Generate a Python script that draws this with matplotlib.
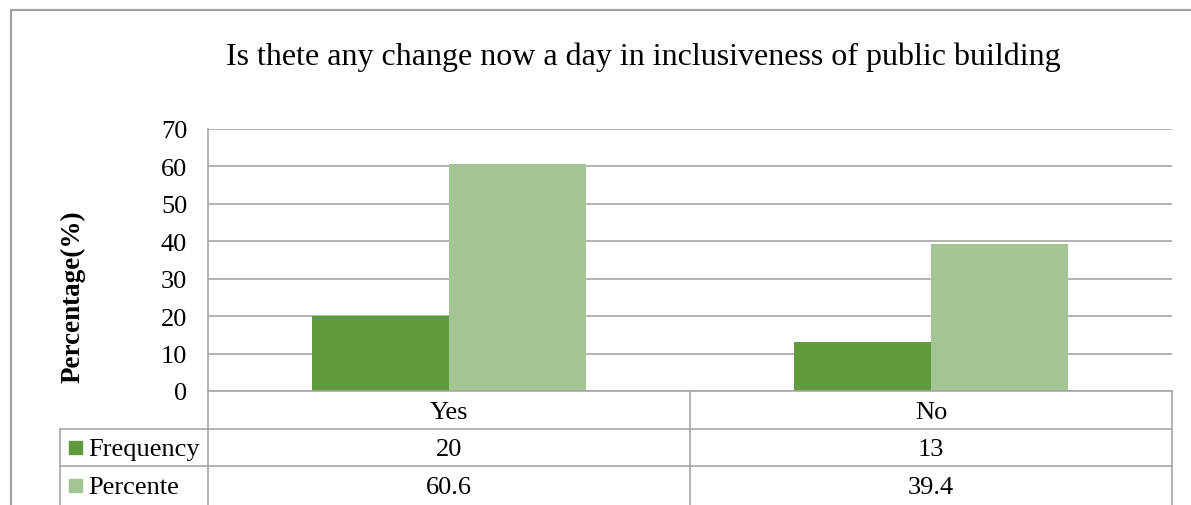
import matplotlib.pyplot as plt
import numpy as np

# ----- DATA -----
categories = ["Yes", "No"]
series_names = ["Frequency", "Percente"]
frequency = [20, 13]
percente = [60.6, 39.4]
frequency_labels = ["20", "13"]
percente_labels = ["60.6", "39.4"]
y_ticks = [0, 10, 20, 30, 40, 50, 60, 70]
title = "Is thete any change now a day in inclusiveness of public building"
y_label = "Percentage(%)"

colors = ["#619A3D", "#A3C593"]
grid_color = "#A6A6A6"

plt.rcParams["font.family"] = ["Liberation Serif", "DejaVu Serif"]

W, H = 1191, 506
fig = plt.figure(figsize=(W / 100, H / 100), dpi=100)


def fx(px):
    return px / W


def fy(py):
    return 1 - py / H


# Plot area
left, right, top, bottom = 208, 1172, 130, 392
ax = fig.add_axes([fx(left), fy(bottom), fx(right) - fx(left), fy(top) - fy(bottom)])

x = np.arange(len(categories))
bar_w = 0.285
ax.bar(x - bar_w / 2, frequency, bar_w, color=colors[0], zorder=3)
ax.bar(x + bar_w / 2, percente, bar_w, color=colors[1], zorder=3)

ax.set_xlim(-0.5, len(categories) - 0.5)
ax.set_ylim(0, 70)
ax.set_yticks(y_ticks)
ax.set_yticklabels([str(t) for t in y_ticks], fontsize=19)
ax.tick_params(axis="y", length=0, pad=15)
ax.set_xticks([])
ax.grid(axis="y", color=grid_color, linewidth=1.2, zorder=0)
for side in ["top", "right", "bottom"]:
    ax.spines[side].set_visible(False)
ax.spines["left"].set_color(grid_color)
ax.spines["left"].set_linewidth(1.2)

# Title and axis label
fig.text(fx(643), fy(57), title, fontsize=23, ha="center", va="center")
fig.text(fx(73), fy(297), y_label, fontsize=19.5, fontweight="bold",
         rotation=90, ha="center", va="center")

# Outer chart frame
frame_kw = dict(color="#A0A0A0", linewidth=1.5, transform=fig.transFigure)
fig.add_artist(plt.Line2D([fx(11), fx(11)], [fy(11), fy(H + 5)], **frame_kw))
fig.add_artist(plt.Line2D([fx(11), fx(W + 5)], [fy(11), fy(11)], **frame_kw))

# ----- DATA TABLE -----
row_y = [392, 430, 467, 506]
col_x = [left, 690, right]
legend_left = 60
line_kw = dict(color=grid_color, linewidth=1.2, transform=fig.transFigure)

# horizontal lines
fig.add_artist(plt.Line2D([fx(left), fx(right)], [fy(row_y[0])] * 2, **line_kw))
for ry in row_y[1:3]:
    fig.add_artist(plt.Line2D([fx(legend_left), fx(right)], [fy(ry)] * 2, **line_kw))
# vertical lines
for cx in col_x:
    fig.add_artist(plt.Line2D([fx(cx)] * 2, [fy(row_y[0]), fy(row_y[3])], **line_kw))
fig.add_artist(plt.Line2D([fx(legend_left)] * 2, [fy(row_y[1]), fy(row_y[3])], **line_kw))

# category row
for i, cat in enumerate(categories):
    cx = (col_x[i] + col_x[i + 1]) / 2
    fig.text(fx(cx), fy((row_y[0] + row_y[1]) / 2 + 2), cat, fontsize=19,
             ha="center", va="center")

# series rows with legend keys
rows = [frequency_labels, percente_labels]
for r, (name, labels) in enumerate(zip(series_names, rows)):
    cy = (row_y[r + 1] + row_y[r + 2]) / 2
    fig.add_artist(plt.Rectangle((fx(69), fy(cy + 6.5)), fx(13), fy(cy - 6.5) - fy(cy + 6.5),
                                 color=colors[r], transform=fig.transFigure))
    fig.text(fx(88), fy(cy + 1.5), name, fontsize=19, ha="left", va="center")
    for i, lab in enumerate(labels):
        cx = (col_x[i] + col_x[i + 1]) / 2
        fig.text(fx(cx), fy(cy + 1.5), lab, fontsize=19, ha="center", va="center")

fig.savefig("out.png", dpi=100)
